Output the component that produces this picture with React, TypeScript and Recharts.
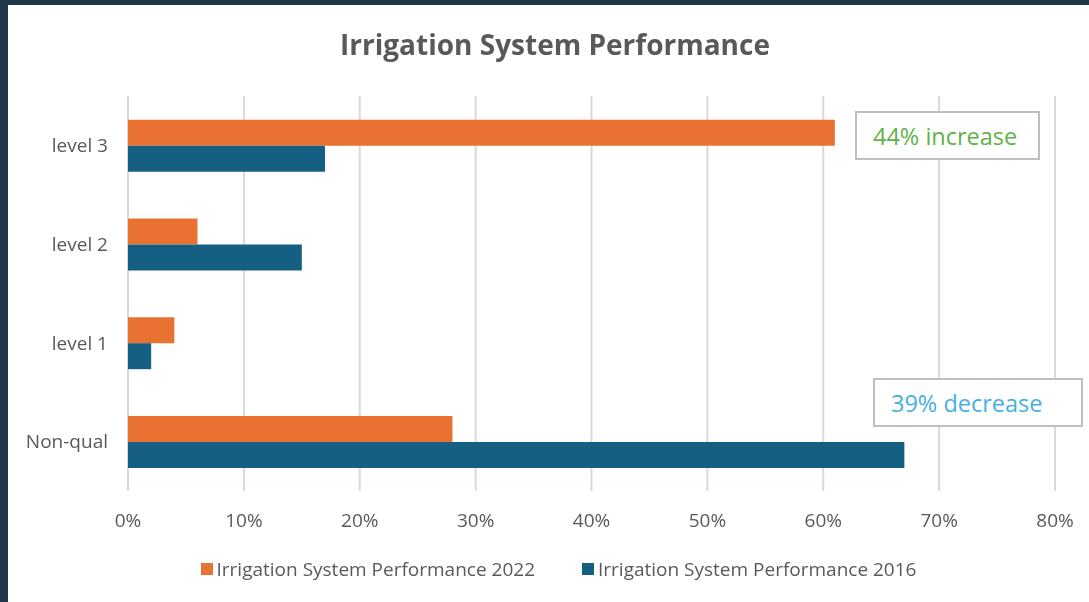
import { BarChart, Bar, XAxis, YAxis, CartesianGrid, Legend } from "recharts";

const categories = ["level 3", "level 2", "level 1", "Non-qual"];
const perf2022 = [0.61, 0.06, 0.04, 0.28];
const perf2016 = [0.17, 0.15, 0.02, 0.67];
const xTicks = [0, 0.1, 0.2, 0.3, 0.4, 0.5, 0.6, 0.7, 0.8];

const NAME_2022 = "Irrigation System Performance 2022";
const NAME_2016 = "Irrigation System Performance 2016";
const ORANGE = "#E97132";
const BLUE = "#156082";
const TEXT = "#595959";
const FONT = "'Open Sans', Lato, sans-serif";

const seriesOrder = [
  { name: NAME_2022, color: ORANGE },
  { name: NAME_2016, color: BLUE },
];

const data = categories.map((c, i) => ({
  name: c,
  [NAME_2022]: perf2022[i],
  [NAME_2016]: perf2016[i],
}));

// legend payload comes back reversed in vertical layout, so keep our own order
function LegendContent() {
  return (
    <div
      style={{
        display: "flex",
        justifyContent: "center",
        gap: 47,
        paddingLeft: 54,
        fontFamily: FONT,
        fontSize: 19,
        color: TEXT,
      }}
    >
      {seriesOrder.map((s) => (
        <div key={s.name} style={{ display: "flex", alignItems: "center", gap: 4 }}>
          <span style={{ width: 12, height: 12, background: s.color, display: "inline-block" }} />
          <span>{s.name}</span>
        </div>
      ))}
    </div>
  );
}

function NoteBox({ text, color, left, top, width }: { text: string; color: string; left: number; top: number; width: number }) {
  return (
    <div
      style={{
        position: "absolute",
        left,
        top,
        width,
        height: 49,
        boxSizing: "border-box",
        border: "2px solid #bfbfbf",
        background: "#fff",
        color,
        fontFamily: FONT,
        fontSize: 23.5,
        display: "flex",
        alignItems: "center",
        paddingLeft: 16,
      }}
    >
      {text}
    </div>
  );
}

export default function App() {
  return (
    <div style={{ position: "fixed", left: 0, top: 0, width: 1089, height: 602, background: "#22384a" }}>
      <div style={{ position: "absolute", left: 8, top: 5, width: 1081, height: 597, background: "#fff" }}>
        <div
          style={{
            position: "absolute",
            left: 0,
            top: 20,
            width: 1094,
            textAlign: "center",
            fontFamily: FONT,
            fontWeight: 700,
            fontSize: 28,
            color: TEXT,
          }}
        >
          Irrigation System Performance
        </div>
        <BarChart
          width={1081}
          height={597}
          data={data}
          layout="vertical"
          margin={{ top: 91, right: 34, bottom: 31, left: 0 }}
          barCategoryGap="24%"
          barGap={0}
        >
          <CartesianGrid horizontal={false} stroke="#d9d9d9" strokeWidth={2} />
          <XAxis
            type="number"
            domain={[0, 0.8]}
            ticks={xTicks}
            tickFormatter={(v: number) => `${Math.round(v * 100)}%`}
            axisLine={false}
            tickLine={false}
            tickSize={0}
            tickMargin={23}
            tick={{ fill: TEXT, fontSize: 19, fontFamily: FONT }}
            height={40}
          />
          <YAxis
            type="category"
            dataKey="name"
            axisLine={false}
            tickLine={false}
            tickSize={0}
            tickMargin={20}
            width={120}
            tick={{ fill: TEXT, fontSize: 19, fontFamily: FONT }}
          />
          <Legend
            verticalAlign="bottom"
            height={40}
            wrapperStyle={{ top: 551, bottom: "auto" }}
            content={<LegendContent />}
          />
          <Bar dataKey={NAME_2022} fill={ORANGE} isAnimationActive={false} />
          <Bar dataKey={NAME_2016} fill={BLUE} isAnimationActive={false} />
        </BarChart>
        <NoteBox text="44% increase" color="#5fb247" left={847} top={106} width={185} />
        <NoteBox text="39% decrease" color="#45b0e1" left={865} top={373} width={210} />
      </div>
    </div>
  );
}
